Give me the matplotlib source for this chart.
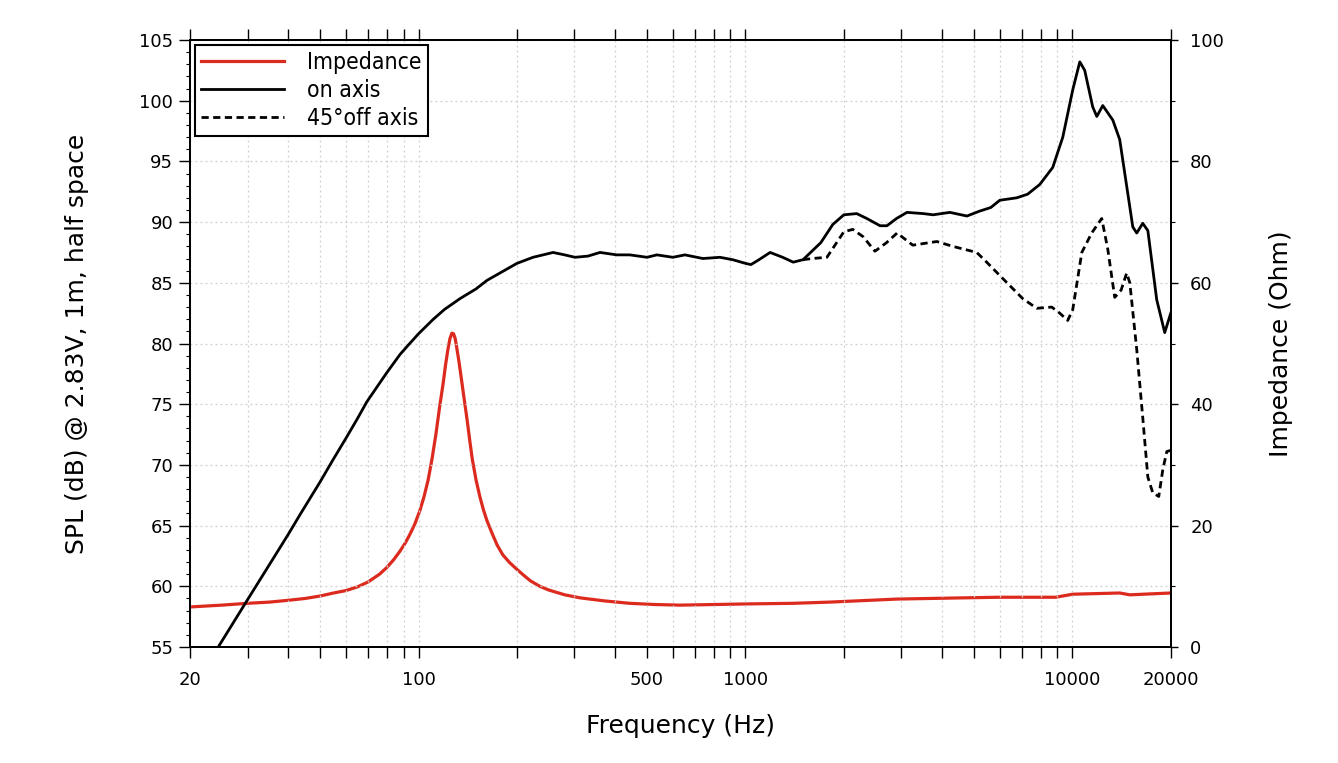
import numpy as np
import matplotlib
matplotlib.use('Agg')
import matplotlib.pyplot as plt
from matplotlib.ticker import FixedLocator, NullFormatter, MultipleLocator

# On-axis SPL (dB)
on_freq = [20, 24.4, 30, 40, 43.4, 50, 54.7, 60, 65, 69.5, 75, 80, 87.8, 94, 100,
           111, 120, 134, 150, 162, 180, 200, 224, 258, 280,
           301, 330, 359, 404, 443, 500, 536, 600, 653, 741, 836, 915, 1000, 1040,
           1100, 1190, 1300, 1400, 1500, 1700, 1850, 2000, 2190, 2350, 2580, 2710,
           2900, 3120, 3500, 3750, 4220, 4760, 5200, 5630, 6000, 6760, 7300, 7950,
           8710, 9350, 10030, 10540, 10910, 11540, 11880, 12390, 13300, 13960,
           15310, 15740, 16420, 17020, 18120, 19170, 20000]
on_spl = [51.3, 55.0, 58.9, 64.3, 65.9, 68.6, 70.4, 72.2, 73.8, 75.2, 76.5, 77.6,
          79.1, 80.0, 80.8, 82.0, 82.8, 83.7, 84.5, 85.2, 85.9, 86.6,
          87.1, 87.5, 87.3, 87.1, 87.2, 87.5, 87.3, 87.3, 87.1, 87.3, 87.1, 87.3,
          87.0, 87.1, 86.9, 86.6, 86.5, 86.9, 87.5, 87.1, 86.7, 86.9, 88.3, 89.8,
          90.6, 90.7, 90.3, 89.7, 89.7, 90.3, 90.8, 90.7, 90.6, 90.8, 90.5, 90.9,
          91.2, 91.8, 92.0, 92.3, 93.1, 94.5, 97.0, 100.9, 103.2, 102.5, 99.5, 98.7,
          99.6, 98.4, 96.8, 89.6, 89.1, 89.9, 89.3, 83.6, 80.9, 82.5]

# 45 deg off-axis SPL (only where it departs from on-axis)
off_freq = [1500, 1600, 1775, 2000, 2130, 2290, 2490, 2700, 2910, 3250, 3850, 4310,
            5100, 5470, 6000, 7050, 7780, 8650, 9150, 9680, 10030, 10690, 11460,
            12300, 12830, 13480, 14100, 14660, 14990, 15740, 16420, 17020, 17620,
            18380, 18910, 19450, 20000]
off_spl = [86.9, 87.0, 87.1, 89.2, 89.4, 88.8, 87.6, 88.3, 89.1, 88.1, 88.4, 88.0,
           87.5, 86.7, 85.6, 83.7, 82.9, 83.0, 82.5, 81.9, 82.8, 87.5, 89.1, 90.3,
           87.8, 83.8, 84.4, 85.8, 85.0, 79.5, 73.9, 69.0, 67.7, 67.4, 69.6, 71.1, 71.2]

# Impedance (Ohm)
imp_freq = [20, 25, 30, 35, 40, 45, 50, 55, 60, 65, 70, 76, 80, 84, 87.8, 91, 94,
            97.5, 101, 104, 107, 110, 113, 116, 119, 121, 123, 124.8, 126.5, 128,
            129.5, 131, 133, 135, 137, 139, 141, 143.5, 146, 150, 154, 158, 162,
            168, 174, 181, 190, 200, 210, 220, 235, 250, 280, 312, 370, 443, 530,
            630, 800, 1010, 1400, 1810, 2910, 4640, 6000, 8890, 10030, 13960,
            14990, 20000]
imp_ohm = [6.6, 6.9, 7.2, 7.4, 7.7, 8.0, 8.4, 8.9, 9.3, 9.9, 10.7, 12.0, 13.1, 14.4,
           15.8, 17.1, 18.5, 20.3, 22.5, 24.8, 27.5, 31.0, 35.0, 39.5, 43.5, 46.5,
           49.0, 50.8, 51.7, 51.6, 50.8, 49.2, 47.0, 44.5, 42.0, 39.6, 37.2, 34.0,
           31.0, 27.5, 24.8, 22.6, 20.8, 18.7, 16.8, 15.2, 13.9, 12.8, 11.8, 10.9,
           10.0, 9.4, 8.6, 8.1, 7.6, 7.2, 7.0, 6.9, 7.0, 7.1, 7.2, 7.4, 7.9, 8.1,
           8.2, 8.2, 8.7, 8.9, 8.6, 8.9]

x_major = [20, 100, 500, 1000, 10000, 20000]
x_major_labels = ['20', '100', '500', '1000', '10000', '20000']
x_minor = [30, 40, 50, 60, 70, 80, 90, 200, 300, 400, 600, 700, 800, 900,
           2000, 3000, 4000, 5000, 6000, 7000, 8000, 9000]

red = '#dc2a1e'

fig = plt.figure(figsize=(13.38, 7.63), dpi=100)
ax = fig.add_axes([0.142, 0.152, 0.733, 0.7956])
ax2 = ax.twinx()

l_on, = ax.plot(on_freq, on_spl, color='black', lw=2.0, zorder=3)
l_off, = ax.plot(off_freq, off_spl, color='black', lw=2.0, dashes=(2.6, 1.6), zorder=3)
l_imp, = ax2.plot(imp_freq, imp_ohm, color=red, lw=2.3, zorder=3)

ax.set_xscale('log')
ax.set_xlim(20, 20000)
ax.set_ylim(55, 105)
ax2.set_ylim(0, 100)

ax.xaxis.set_major_locator(FixedLocator(x_major))
ax.xaxis.set_minor_locator(FixedLocator(x_minor))
ax.set_xticklabels(x_major_labels)
ax.xaxis.set_minor_formatter(NullFormatter())
ax.yaxis.set_major_locator(MultipleLocator(5))
ax.yaxis.set_minor_locator(MultipleLocator(1))
ax2.yaxis.set_major_locator(MultipleLocator(20))
ax2.yaxis.set_minor_locator(MultipleLocator(10))

# Grid
ax.grid(which='both', axis='x', color='#cfcfcf', linestyle=(0, (1.5, 2.5)), lw=0.9)
ax.grid(which='major', axis='y', color='#cfcfcf', linestyle=(0, (1.5, 2.5)), lw=0.9)
ax.set_axisbelow(True)

# Ticks
ax.tick_params(axis='x', which='both', direction='out', length=8, width=1.0,
               top=True, labelsize=13, pad=9)
ax.tick_params(axis='y', which='major', direction='out', length=8, width=1.0,
               labelsize=13, pad=4)
ax.tick_params(axis='y', which='minor', direction='out', length=3, width=0.8)
ax2.tick_params(axis='y', which='major', direction='out', length=5, width=1.0,
                labelsize=13, pad=9)
ax2.tick_params(axis='y', which='minor', direction='out', length=3, width=0.8)

for a in (ax, ax2):
    for s in a.spines.values():
        s.set_linewidth(1.4)
        s.set_color('black')

ax.set_xlabel('Frequency (Hz)', fontsize=18, labelpad=18)
ax.set_ylabel('SPL (dB) @ 2.83V, 1m, half space', fontsize=18, labelpad=36)
ax2.set_ylabel('Impedance (Ohm)', fontsize=18, labelpad=32)

leg = ax.legend([l_imp, l_on, l_off], ['Impedance', 'on axis', '45°off axis'],
                loc='upper left', bbox_to_anchor=(0.0, 1.0), borderaxespad=0.2,
                fancybox=False, framealpha=1, edgecolor='black',
                prop={'family': ['DejaVu Sans'], 'stretch': 'condensed', 'size': 16.5},
                handlelength=3.6, handletextpad=1.0, labelspacing=0.2, borderpad=0.3)
leg.get_frame().set_linewidth(1.5)
leg.set_zorder(10)
ax.set_zorder(ax2.get_zorder() + 1)
ax.patch.set_visible(False)

fig.savefig('out.png', dpi=100, facecolor='white')
